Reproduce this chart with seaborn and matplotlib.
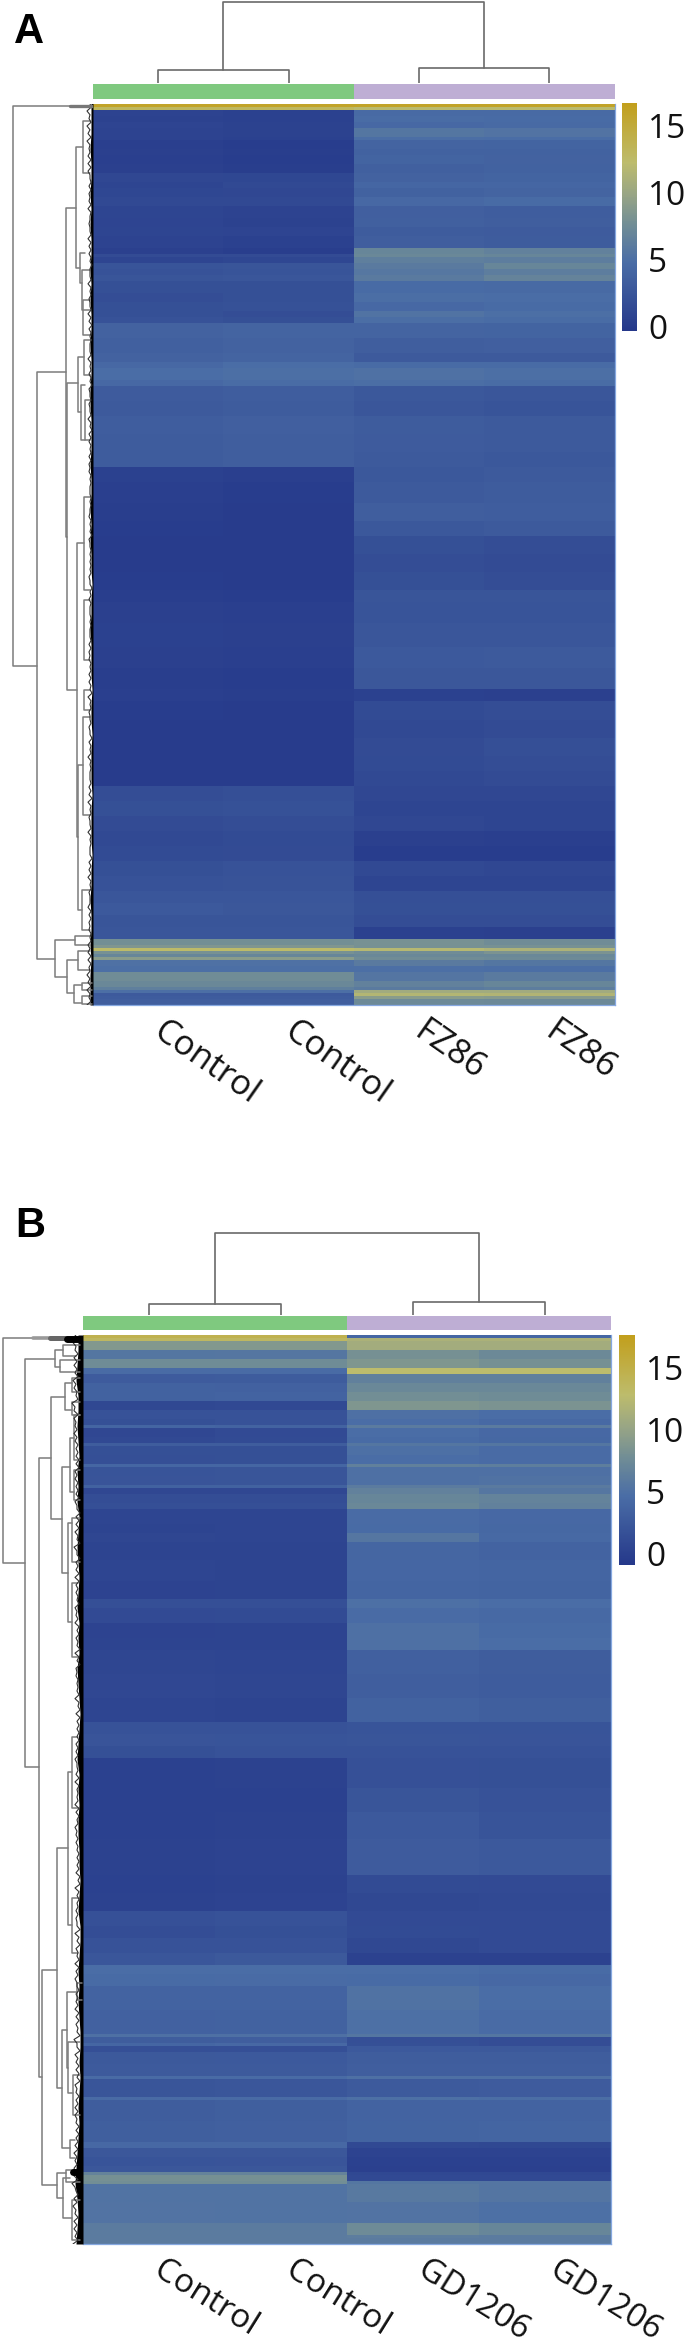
import numpy as np
import pandas as pd
import seaborn as sns
import matplotlib
matplotlib.use("Agg")
import matplotlib.pyplot as plt
from matplotlib.colors import LinearSegmentedColormap, ListedColormap
from matplotlib.transforms import ScaledTranslation

# ---------- data: expression bands (rows in cluster, ctrl1, ctrl2, treat1, treat2)
bands_a = [
 (1,16,16,16,16),(1,13,13,12,12),
 (2,.8,.6,4.5,4.5),(2,.7,.6,4.7,4.6),(2,.9,.7,4.4,4.5),(3,.8,.7,5.6,5.4),(1,.8,.6,4.9,4.8),
 (3,.4,.2,4,3.9),(2,.5,.3,3.7,3.7),(3,.4,.2,3.9,3.8),(3,.5,.3,3.6,3.7),
 (3,1.2,1.1,3.8,3.9),(2,1,1.3,4.2,4.2),(3,1.1,1.2,3.7,4),(3,1.3,1.3,4.4,4.6),
 (4,1,.8,3.5,3.3),(3,.9,.7,3.6,3.4),(3,1,.9,3.2,3.1),(4,.8,.6,3.4,3.2),
 (2,.5,.3,7,6.6),(1,1.6,1.6,7.2,7),(2,1,1.1,6.4,6.2),
 (2,2.4,2.5,6,7),(2,2.2,2.4,5.7,6.2),(2,2.5,2.6,6,6.8),
 (4,2,2,4.6,4.5),(3,1.8,2,4.9,4.8),(3,2,2.1,4.4,4.6),
 (2,2,1.8,5.3,5),(2,2.2,2,4.9,4.7),
 (5,3.8,4,4,3.9),(5,3.6,3.8,3.4,3.5),(3,3.8,4,3,3),
 (2,4.4,4.8,4.6,4.6),(4,4.8,5,5.2,5),(2,4.4,4.7,4.9,4.7),
 (5,3.1,3.3,2.8,2.6),(5,3,3.2,2.6,2.4),(6,3.3,3.5,3.2,3),(6,3.2,3.4,3.1,3),(5,3.2,3.4,3,2.8),
 (5,.6,.4,2.8,3),(7,.4,.2,3,3.2),(6,.3,.1,3.4,3.3),(5,.2,.1,2.8,3),
 (6,.1,.1,2,1.7),(6,.1,.1,1.8,1.6),(6,.2,.1,2,1.8),
 (4,.3,.2,2.5,2.5),(7,.5,.4,2.4,2.4),(8,.6,.5,2.6,2.6),(7,.5,.4,2.9,3),(7,.3,.2,2.7,2.7),(4,.4,.3,.6,.5),
 (6,.2,.1,1.5,1.8),(6,.1,.1,1.3,1.6),(6,.1,.1,1.6,1.9),(5,.1,.1,1.5,1.7),(5,.1,.1,1.4,1.6),
 (5,1.8,1.9,1.2,1.2),(5,2,2.1,1,1),(5,1.6,1.8,1.2,1),
 (5,1.3,1.5,.5,.4),(5,1.5,1.6,.2,.2),
 (5,2,2.2,1.3,1.2),(5,2.2,2.3,1.0,1.0),
 (4,2.6,2.6,1.9,1.9),(4,2.9,2.7,2,2),(4,2.5,2.5,1.8,1.7),(4,2.6,2.6,.6,.5),
 (2,7.8,7.8,8,7.6),(1,8.5,8.5,8,8),(1,12.5,12.5,11.8,11.2),(1,8,8,7.6,8.2),(1,7,7,7.2,7.2),(1,9,9,7.6,7.4),
 (2,5.2,5.2,6,5.6),(2,5,5,5,4.9),
 (3,7.6,7.6,5.5,6),(2,7.2,7.2,6.6,7),(1,6.4,6.4,6,6.2),
 (1,5,5,10.5,10.5),(1,3,3,11.6,11.5),
 (1,3.2,3.2,9,8.8),(2,3.4,3.4,7.4,7.3),
]
bands_b = [
 (1,14.5,14.5,4,4),(1,13.5,13.5,11.5,11.5),(3,8.8,8.8,11,11),
 (3,5.5,5.6,8,7.4),(3,7.6,7.6,8.6,8),
 (2,4.5,4.5,12.8,12.8),
 (3,2.8,2.9,6.5,6.5),(3,3.5,3.4,7.2,7.2),(3,3.5,3.6,7.8,7.6),
 (3,.8,.9,8.6,8.4),
 (3,1.8,1.8,5,4.6),(2,1.6,1.9,4.6,4.3),(1,3.8,3.6,6,6),
 (3,.7,1,4.6,4.2),(2,.9,1.1,4.4,4.1),(1,3,3,5.5,5.5),
 (3,1.6,1.6,4.9,4.5),(3,1.5,1.6,4.7,4.5),(1,4,4,6.5,6.3),
 (3,2,2.2,5,5),(3,2.1,2.2,5,5.1),(1,3.5,3.5,6,5.9),
 (2,.7,.7,6.6,5.6),(3,1.4,1.4,7,6.7),(2,1.5,1.5,7.2,6.6),
 (5,.5,.5,4.5,4.2),(3,.4,.5,4.4,4.1),(3,.6,.5,5.6,4.3),
 (6,.4,.4,3.9,3.6),(7,.5,.4,4,3.8),(6,.3,.4,3.8,3.7),
 (3,1.5,1.5,4.9,4.6),(5,1,1.1,4.5,4.3),(5,.3,.4,5,4.4),(4,.4,.4,5,4.7),
 (8,.6,.5,3.3,3),(8,.7,.6,3.1,2.9),(8,.5,.4,3.5,3.2),
 (4,1.8,1.8,2,2),(4,2.1,2,2.2,2.1),(4,1.6,1.8,1.9,1.9),
 (10,.1,.2,1.7,1.6),(8,.1,.1,2.2,1.8),(9,.1,.2,2.6,2),(12,.2,.3,2.8,2.6),
 (6,.1,.2,1.1,1),(6,.2,.3,.8,.9),
 (5,1.7,1.9,1,1),(4,1.4,1.6,1.1,1),(5,1.8,1.9,.8,1),
 (4,2.3,2.5,.2,.2),(3,4.6,4.6,4.6,4.4),(4,4.4,4.5,4.4,4.2),
 (8,3.6,3.6,5.1,4.7),(8,3.4,3.5,4.9,4.5),(1,5,5,5.5,5.5),
 (2,3,3.1,1.5,1.3),(1,4,4.2,1.6,1.4),(2,1.5,1.5,2.6,2.5),
 (4,2.5,2.6,3,3),(4,2.7,2.7,3.1,3.1),(1,4.5,4.5,5,5),
 (6,2.2,2.3,2.7,2.8),(1,4.5,4.5,4.9,4.8),
 (7,3,3.2,3.6,3.6),(7,3.2,3.3,3.7,3.8),(2,4.2,4.2,.9,.8),
 (3,2.4,2.4,.3,.3),(3,2,2.1,.1,.1),(2,2.4,2.4,0,0),
 (1,6.8,6.8,.8,.8),(2,8,8,.9,.9),(1,7.8,7.8,5.5,5.4),
 (6,5.2,5.2,5.8,5.4),(7,5.3,5.2,5.3,4.9),
 (4,6,6,7.5,7),(1,6,6,6.2,6),(2,6,6,6,6),
]
samples_a = ["Control", "Control", "FZ86", "FZ86"]
samples_b = ["Control", "Control", "GD1206", "GD1206"]
groups = [0, 0, 1, 1]
cbar_ticks = [0, 5, 10, 15]

# column dendrogram merge heights
col_h_a = [13, 15, 82]   # left pair, right pair, root (height above bar)
col_h_b = [11, 13, 83]

# row dendrogram brackets: height, first child, second child, height of first child, height of second child
brackets_a = [
 (13,106,666,70,37),(37,372,959,66,55),(66,208,537,76,67),(76,147,268,83,80),
 (83,121,173,90,90),(80,253,283,85,82),(82,270,310,90,90),(67,383,690,78,77),
 (78,357,412,84,81),(84,340,375,91,91),(81,385,440,85,85),(85,400,440,90,90),
 (77,543,837,84,78),(84,497,590,90,90),(78,765,910,83,82),(83,717,815,90,90),
 (82,890,930,90,90),(55,940,977,75,67),(75,936,945,90,90),(67,960,993,78,74),
 (78,951,970,90,90),(74,985,1003,82,82),(82,983,990,92,92),(82,996,1004,92,92),
 (83,300,335,90,90),(84,600,660,90,90),(84,690,710,90,90),
]
brackets_b = [
 (3,1338,1563,33,25),(25,1359,1767,55,39),(55,1350,1367,63,60),(63,1345,1356,80,76),
 (60,1360,1372,80,80),(39,1458,2077,51,42),(51,1397,1519,65,62),(65,1383,1410,72,72),
 (72,1378,1392,80,80),(72,1402,1415,80,80),(62,1467,1573,70,68),(70,1438,1492,74,74),
 (74,1415,1460,80,80),(74,1470,1500,80,80),(68,1523,1622,72,72),(72,1518,1562,80,80),
 (72,1583,1657,78,78),(42,1970,2185,57,57),(57,1848,2088,68,62),(68,1772,1925,72,72),
 (72,1737,1808,78,78),(72,1898,1953,78,78),(62,2030,2148,67,70),(67,1992,2068,77,68),
 (77,1983,2000,82,82),(68,2042,2093,80,73),(73,2075,2115,80,80),(70,2140,2158,75,75),
 (57,2173,2198,66,63),(66,2170,2182,80,80),(63,2178,2218,70,72),(72,2200,2240,80,80),
]
# depth of the dense leaf mass next to the heatmap, top to bottom
leaf_a = [2,2,2,3,2,2,3,2,3,2,2,3,2,3,2,2,3,2,2,3,3,2,2,2,3,2,2,3,2,3,2,2,1,2,2,3,2,2,2,1,2,2,1,2,2,2,1,2,2,2,1,2,2,3,2,2,3,2,3,3,3]
fringe_a = [3,4,5,4,5,3,4,5,4,5,4,3,5,4,5,4,3,5,4,4,4,5,4,3,4,3,3,3,3,4,3,3,3,4,3,3,4,4,4,3,3,3,3,3,3,3,4,3,3,3,3,4,3,3,4,4,5,5,6,6,6]
leaf_b = [5,5,6,7,5,5,6,5,4,6,5,6,4,5,6,5,4,5,6,4,5,4,6,5,4,3,4,5,6,4,5,4,5,5,4,4,3,4,5,3,3,4,5,4,5,4,3,3,4,3,4,5,4,5,6,7,8,6,5,6,7]
fringe_b = [8,8,9,10,7,9,8,8,7,8,7,8,7,8,9,7,8,7,8,8,7,8,7,6,8,7,6,7,8,7,6,8,6,7,6,6,5,6,7,6,6,6,7,6,7,7,6,6,7,6,7,8,7,7,9,9,11,9,8,9,10]

# ---------- style
sns.set_theme(style="white")
plt.rcParams["font.family"] = ["Open Sans", "DejaVu Sans"]
W, H = 685, 2351
cmap = LinearSegmentedColormap.from_list("expr", [
    (0.00, "#25388a"), (0.30, "#4a6da6"), (0.46, "#6f8c96"),
    (0.60, "#98a585"), (0.74, "#bdbc6c"), (1.00, "#c29f1c")])
ann_cmap = ListedColormap(["#7fc97f", "#beaed4"])
fig = plt.figure(figsize=(W / 100, H / 100), dpi=100, facecolor="white")

def box(x0, y0, x1, y1):
    return fig.add_axes([x0 / W, 1 - y1 / H, (x1 - x0) / W, (y1 - y0) / H])

def frame(bands):
    counts = [b[0] for b in bands]
    vals = np.repeat(np.array([b[1:] for b in bands], float), counts, axis=0)
    return pd.DataFrame(vals)

def panel(letter, letter_xy, bands, samples, brackets, leaf, fringe, col_h,
          hx, hy, bar_y, cb, vlim, label_shift, label_rot, label_size, dendro_lw=1.1):
    x0, x1 = hx
    y0, y1 = hy
    df = frame(bands)
    ax = box(x0, y0, x1, y1)
    cax = box(*cb)
    sns.heatmap(df, ax=ax, cmap=cmap, vmin=vlim[0], vmax=vlim[1], cbar_ax=cax,
                xticklabels=samples, yticklabels=False,
                cbar_kws=dict(ticks=cbar_ticks))
    ax.tick_params(axis="x", length=0, pad=7)
    ax.set_xticklabels(samples, rotation=label_rot, ha="left", va="top",
                       rotation_mode="anchor", fontsize=label_size, color="#111111")
    shift = ScaledTranslation(label_shift / 100, 0, fig.dpi_scale_trans)
    for t in ax.get_xticklabels():
        t.set_transform(t.get_transform() + shift)
    ax.set_xlabel(""); ax.set_ylabel("")
    for s in ("right", "bottom"):
        ax.spines[s].set_visible(True)
        ax.spines[s].set_color("#86a8e0")
        ax.spines[s].set_linewidth(0.9)
    cax.tick_params(length=0, labelsize=24, pad=8, labelcolor="#111111")
    for s in cax.spines.values():
        s.set_visible(False)

    # annotation bar
    bar = box(x0, bar_y[0], x1, bar_y[1])
    sns.heatmap(pd.DataFrame([groups]), ax=bar, cmap=ann_cmap, cbar=False,
                xticklabels=False, yticklabels=False, vmin=0, vmax=1)

    # column dendrogram
    top = box(x0, bar_y[0] - col_h[2] - 1, x1, bar_y[0] - 1)
    top.set_xlim(0, 4); top.set_ylim(0, col_h[2] + 1); top.axis("off")
    lc = "#6a6a6a"
    sns.lineplot(x=[.5, .5, 1.5, 1.5], y=[0, col_h[0], col_h[0], 0], ax=top, color=lc, lw=1.2,
                 sort=False, estimator=None)
    sns.lineplot(x=[2.5, 2.5, 3.5, 3.5], y=[0, col_h[1], col_h[1], 0], ax=top, color=lc, lw=1.2,
                 sort=False, estimator=None)
    sns.lineplot(x=[1, 1, 3, 3], y=[col_h[0], col_h[2], col_h[2], col_h[1]], ax=top, color=lc, lw=1.2,
                 sort=False, estimator=None)

    # row dendrogram
    d = box(0, y0, x0, y1)
    d.set_xlim(0, x0); d.set_ylim(y1, y0); d.axis("off")
    lc = "#7c7c7c"
    for h, a, b, ha, hb in brackets:
        d.plot([ha, h, h, hb], [a, a, b, b], color=lc, lw=dendro_lw, solid_joinstyle="round")
    ys = np.linspace(y0, y1, len(leaf))
    leaf = np.array(leaf, float); fringe = np.array(fringe, float)
    step = ys[1] - ys[0]
    zx = np.ravel(np.column_stack([x0 - fringe, x0 - leaf, x0 - fringe[::-1], x0 - leaf[::-1]]))
    zy = np.ravel(np.column_stack([ys, ys + step / 4, ys + step / 2, ys + 3 * step / 4]))
    d.plot(zx, zy, color="#333333", lw=0.8)
    d.fill_betweenx(ys, x0 - leaf, x0, color="black", lw=0)
    ax.figure.text(letter_xy[0] / W, 1 - letter_xy[1] / H, letter, fontsize=30, fontweight="bold",
                   family="Liberation Sans", ha="left", va="baseline", color="black")
    return d

a = panel("A", (14, 43), bands_a, samples_a, brackets_a, leaf_a, fringe_a, col_h_a,
          (93, 614.5), (103.5, 1005), (84, 99), (622, 103, 637, 331), (-0.3, 16.7), 9, -35, 25)
a.plot([70, 92], [106, 106], color="#777777", lw=2.4)

b = panel("B", (15, 1237), bands_b, samples_b, brackets_b, leaf_b, fringe_b, col_h_b,
          (83, 611), (1335, 2244), (1316, 1330), (619, 1335, 635, 1565), (-0.9, 17.6), 16, -32, 24)
b.plot([33, 50], [1338, 1338], color="#999999", lw=2.6)
b.plot([50, 66], [1338, 1338], color="#666666", lw=3.6)
b.plot([67, 83], [1339, 1339], color="black", lw=5)
b.plot([73, 83], [2172, 2172], color="black", lw=5)

fig.savefig("out.png", dpi=100, facecolor="white")
